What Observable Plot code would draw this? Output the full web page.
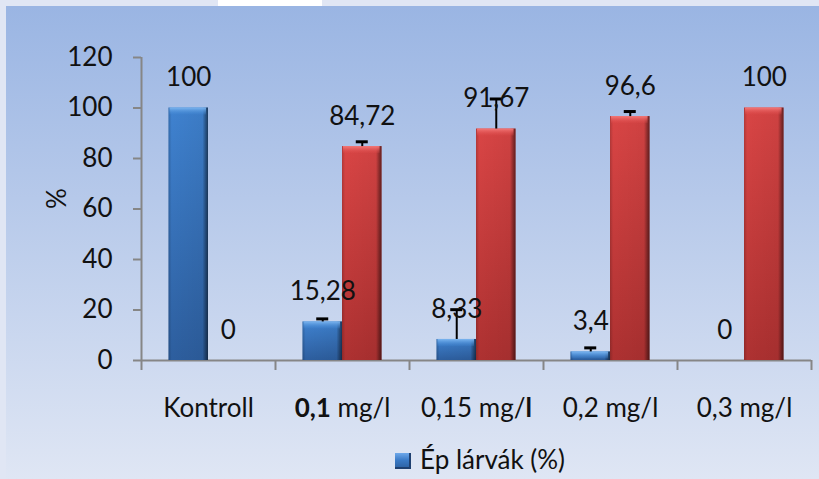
<!DOCTYPE html>
<html><head><meta charset="utf-8">
<script src="https://cdn.jsdelivr.net/npm/d3@7"></script>
<script src="https://cdn.jsdelivr.net/npm/@observablehq/plot@0.6"></script>
<style>
html,body{margin:0;padding:0;}
body{width:819px;height:479px;overflow:hidden;background:#e0e6f4;font-family:Lato,sans-serif;}
#wrap{position:relative;width:819px;height:479px;}
#topwhite{position:absolute;left:218px;top:0;width:104px;height:6px;background:#fff;}
#bg{position:absolute;left:6px;top:6px;right:0;bottom:0;background:linear-gradient(#9ab5e3,#dfe6f4);}
#chart{position:absolute;left:0;top:0;}
#legend{position:absolute;left:395px;top:446px;font-size:26px;line-height:26px;color:#111;display:flex;align-items:center;white-space:nowrap;}
#legend .sw{display:inline-block;width:16px;height:16px;margin-right:9px;margin-top:4px;background:linear-gradient(#6ea8ea,#3a7ac6 45%,#2c5f9f);box-shadow:inset -2px -2px 0 #1f4070;}
</style></head>
<body><div id="wrap"><div id="topwhite"></div><div id="bg"></div><div id="chart"></div><div id="legend"><span class="sw"></span><span>Ép lárvák (%)</span></div></div>
<script>
// ---- data ----
const categories = ["Kontroll", "0,1 mg/l", "0,15 mg/l", "0,2 mg/l", "0,3 mg/l"];
const epLarvak = [100, 15.28, 8.33, 3.4, 0];
const epError = [0, 1.2, 11.8, 1.6, 0];
const deformalt = [0, 84.72, 91.67, 96.6, 100];
const deformaltError = [0, 1.9, 11.9, 2.0, 0];
const yTicks = [0, 20, 40, 60, 80, 100, 120];
const yLabel = "%";

// ---- layout ----
const W = 819, H = 479, ML = 141, MR = 8, MT = 57, MB = 119;
const BW = (W - ML - MR) / categories.length;
const IN = 0.205 * BW, HALF = 0.5 * BW;
const OFF = (0.5 - (IN / BW + 0.5) / 2) * BW;
const fmt = v => String(v).replace(".", ",");

const ep = categories.map((c, i) => ({cat: c, value: epLarvak[i], err: epError[i]}));
const def = categories.map((c, i) => ({cat: c, value: deformalt[i], err: deformaltError[i]}));

function barMarks(rows, grad, top, left, right) {
  return [
    Plot.barY(rows, {x: "cat", y: "value", fill: `url(#${grad})`, insetLeft: left, insetRight: right}),
    Plot.barY(rows, {x: "cat", y: "value", fill: "url(#gShade)", insetLeft: left, insetRight: right}),
    Plot.barY(rows.filter(d => d.value > 0), {x: "cat", y1: "value", y2: "value", insetBottom: -7, fill: `url(#${top})`, insetLeft: left + 1, insetRight: right + 2})
  ];
}
function errMarks(rows, dx) {
  return [
    Plot.ruleX(rows.filter(d => d.err > 0), {x: "cat", y1: "value", y2: d => d.value + d.err, dx, stroke: "#000", strokeWidth: 2}),
    Plot.tickY(rows.filter(d => d.err > 0), {x: "cat", y: d => d.value + d.err, dx, insetLeft: BW / 2 - 6, insetRight: BW / 2 - 6, stroke: "#000", strokeWidth: 3})
  ];
}
function labelMarks(rows, dx) {
  return [Plot.text(rows, {x: "cat", y: "value", text: d => fmt(d.value), dx, dy: -30, fontSize: 26, fill: "#111"})];
}

const plot = Plot.plot({
  width: W, height: H,
  marginLeft: ML, marginRight: MR, marginTop: MT, marginBottom: MB,
  style: {background: "transparent", fontFamily: "Lato, sans-serif", fontSize: "26px", color: "#111", overflow: "visible"},
  x: {domain: categories, padding: 0, label: null},
  y: {domain: [0, 120], label: null},
  marks: [
    Plot.axisY({ticks: yTicks, tickSize: 8, tickPadding: 21, stroke: "#868686", strokeWidth: 2, fontSize: 26, label: null}),
    Plot.axisX({tickSize: 0, tickPadding: 38, fontSize: 26, label: null}),
    Plot.ruleX([categories[0]], {x: d => d, dx: -BW / 2, y1: 0, y2: 120, stroke: "#868686", strokeWidth: 2}),
    Plot.ruleY([0], {stroke: "#868686", strokeWidth: 2}),
    Plot.ruleX(categories, {x: d => d, dx: -BW / 2, y1: 0, y2: 0, insetBottom: -10, stroke: "#868686", strokeWidth: 2}),
    Plot.ruleX([categories[categories.length - 1]], {x: d => d, dx: BW / 2, y1: 0, y2: 0, insetBottom: -10, stroke: "#868686", strokeWidth: 2}),
    Plot.text([yLabel], {frameAnchor: "left", dx: -84, rotate: -90, fontSize: 26, fill: "#111"}),
    ...barMarks(ep, "gBlue", "gBlueTop", IN, HALF),
    ...barMarks(def, "gRed", "gRedTop", HALF, IN),
    ...errMarks(ep, -OFF),
    ...errMarks(def, OFF),
    ...labelMarks(ep, -OFF),
    ...labelMarks(def, OFF)
  ]
});

d3.select(plot).insert("defs", ":first-child").html(`
  <linearGradient id="gBlue" x1="0" y1="0" x2="0" y2="1">
    <stop offset="0" stop-color="#3f82d0"/><stop offset="1" stop-color="#2d5e9e"/>
  </linearGradient>
  <linearGradient id="gRed" x1="0" y1="0" x2="0" y2="1">
    <stop offset="0" stop-color="#d94545"/><stop offset="1" stop-color="#ad3131"/>
  </linearGradient>
  <linearGradient id="gShade" x1="0" y1="0" x2="1" y2="0">
    <stop offset="0" stop-color="#000" stop-opacity="0.18"/>
    <stop offset="0.08" stop-color="#000" stop-opacity="0"/>
    <stop offset="0.86" stop-color="#000" stop-opacity="0.05"/>
    <stop offset="0.94" stop-color="#000" stop-opacity="0.35"/>
    <stop offset="1" stop-color="#000" stop-opacity="0.55"/>
  </linearGradient>
  <linearGradient id="gBlueTop" x1="0" y1="0" x2="0" y2="1">
    <stop offset="0" stop-color="#7db6f0"/><stop offset="1" stop-color="#4289d6" stop-opacity="0.2"/>
  </linearGradient>
  <linearGradient id="gRedTop" x1="0" y1="0" x2="0" y2="1">
    <stop offset="0" stop-color="#f47a7a"/><stop offset="1" stop-color="#de4a4a" stop-opacity="0.2"/>
  </linearGradient>`);

// mixed bold in category labels as in the original
const boldMap = {"0,1 mg/l": [["0,1", true], [" mg/l", false]], "0,15 mg/l": [["0,15 mg/", false], ["l", true]]};
d3.select(plot).selectAll("text").each(function () {
  const t = this.textContent;
  if (boldMap[t] && this.children.length === 0) {
    const el = d3.select(this);
    el.text(null);
    boldMap[t].forEach(([s, b]) => el.append("tspan").attr("font-weight", b ? "bold" : null).text(s));
  }
});

document.getElementById("chart").appendChild(plot);
</script>
</body></html>
